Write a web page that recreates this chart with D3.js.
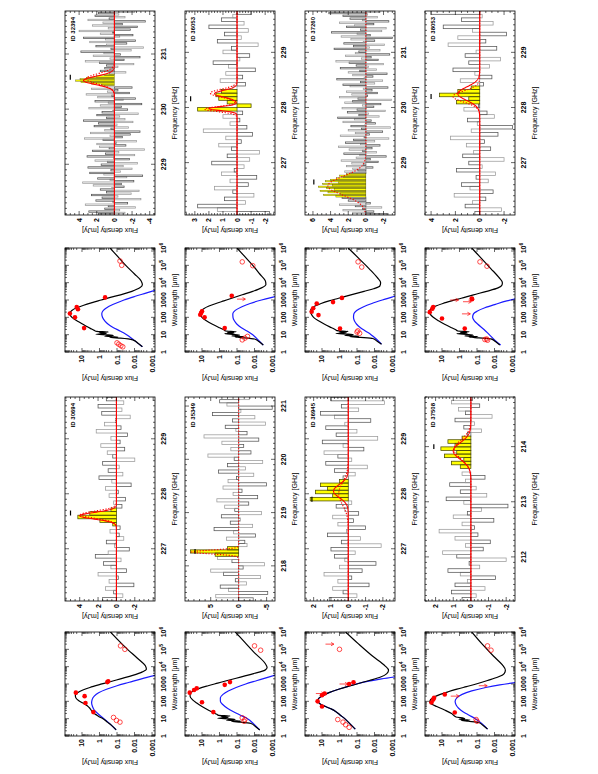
<!DOCTYPE html>
<html><head><meta charset="utf-8">
<script src="https://cdn.jsdelivr.net/npm/d3@7/dist/d3.min.js"></script>
<style>html,body{margin:0;padding:0;background:#fff;}svg{display:block;}</style>
</head><body>
<svg id="fig" width="598" height="774"></svg>
<script>
// ---------------- DATA ----------------
const sources = ["30694","32394","35349","36053","36945","37260","37508","38053"];

// spectra: channel fluxes (mJy)
const flux_30694 = [1.5,-0.7,0.3,1.2,-1.9,0.8,-0.2,2.0,-1.1,0.6,1.4,-0.5,2.3,0.9,-1.4,0.2,1.1,-0.8,-0.3,0.7,-0.4,0.4,1.8,4.2,2.9,0.6,-0.6,0.3,-1.0,0.8,-0.2,1.2,-1.6,0.5,1.9,-0.7,0.9,-0.3,1.5,-2.0,0.4,1.0,-0.9,1.7,-0.4,0.6,-1.2,2.2,-0.5,1.3,0.1,-1.5,1.6,-0.6,2.0,-0.8,1.1];
const flux_32394 = [1.8,-1.2,2.9,-0.6,1.1,-2.4,0.7,3.3,-1.5,0.2,2.1,-3.0,1.4,-0.4,2.6,-1.9,0.9,-2.8,1.6,0.3,
  -1.1,2.4,-0.8,3.6,-2.2,0.5,1.9,-1.4,-3.2,1.2,2.8,-0.7,0.4,-2.0,3.0,-1.0,1.5,-2.6,0.8,2.2,
  -1.7,0.1,3.1,-2.3,1.0,-0.5,2.5,-3.4,0.6,1.7,-1.3,2.0,-0.2,-2.5,1.3,3.4,-0.9,0.5,-1.8,2.7,
  -2.9,1.1,0.4,-1.6,2.3,-0.3,1.8,-2.1,3.5,-1.2,0.9,-0.6,2.0,-2.7,1.4,0.2,-1.5,2.9,-0.8,1.6,
  -3.1,0.7,2.2,-1.0,-2.4,1.9,0.3,3.2,-1.7,0.8,-0.4,2.6,-2.0,1.2,
  1.5,2.6,3.8,4.4,3.9,3.2,2.0,1.1,
  0.6,-1.3,1.6,0.3,1.1,-0.4,0.9,-2.2,1.7,3.3,-1.1,0.5,-2.9,2.4,-0.7,1.2,3.8,-1.9,0.4,-3.3,2.1,0.9,-1.4,2.8,-2.4,1.0,3.5,-0.6,-2.1,1.6,0.2,4.0,-1.8,0.7,-2.6,2.5,-0.9,1.3,-3.5,3.0,0.6,-1.2,2.2,-0.5,1.8,-2.3];
const flux_35349 = [-2.6,4.1,-5.2,1.8,3.3,-1.4,0.6,-3.9,2.7,5.0,-0.8,-4.6,1.2,3.8,4.2,8.6,2.0,-1.5,-1.1,2.2,-3.0,0.9,4.4,-2.5,1.5,-0.3,3.1,-4.1,0.7,2.5,-1.8,3.9,-3.4,1.0,-0.6,2.8,-5.0,1.9,0.4,-2.7,3.6,-1.2,2.0,-4.3,0.8,5.5,-2.2,1.4,-0.9,3.0,-3.6,6.2,-1.5,0.5,2.4,-4.8,1.1,-2.9,4.7,-0.4,-6.0,2.1,3.4,-1.9];
const flux_36053 = [-2.3,1.4,2.8,-0.6,0.9,-1.2,0.3,1.6,-0.8,0.5,-1.4,1.1,0.2,-0.5,1.8,-0.9,0.7,-1.6,0.4,1.3,-0.3,0.8,-1.1,2.4,-0.7,0.5,-0.2,1.0,-0.4,2.8,-1.0,0.7,1.3,1.5,1.1,0.3,-0.6,1.2,-0.4,0.8,-1.3,0.6,1.7,-0.2,-0.9,1.0,0.4,-1.5,1.4,-0.3,0.9,-0.8,2.0,-0.5,1.1,0.3,-1.0];
const flux_36945 = [1.1,-0.5,0.3,0.9,-1.2,0.6,-0.2,1.4,-0.8,0.5,-1.6,0.2,0.8,-0.4,1.0,-1.9,0.4,-0.7,1.2,0.1,-1.0,0.6,-0.3,0.9,-0.6,0.2,0.7,-0.2,2.2,0.9,1.9,1.2,1.6,0.5,0.3,-0.4,0.8,-1.1,1.3,-0.2,0.6,1.4,-0.9,0.3,1.5,-1.7,0.7,-0.5,1.3,0.2,-1.3,0.8,1.6,-0.6,0.4,-2.1,1.0];
const flux_37260 = [-2.4,1.5,-0.9,2.6,0.4,-1.8,1.2,3.0,-0.5,0.8,2.0,1.4,2.7,
  3.4,4.8,2.9,4.3,5.2,3.6,4.5,5.4,3.8,4.9,3.1,4.6,4.0,3.3,2.6,3.0,2.2,
  1.7,2.4,0.9,1.5,-0.8,2.2,0.3,1.6,-1.4,2.8,-0.5,1.1,-2.3,0.7,2.5,-1.2,0.4,1.9,-0.7,3.1,
  -1.6,0.6,2.3,-1.0,1.4,-2.6,0.2,2.9,-0.4,1.2,-1.9,2.0,0.5,-2.8,1.7,0.1,-1.1,2.6,-0.6,1.3,
  3.2,-1.5,0.8,-0.3,2.1,-2.2,1.0,2.7,-0.9,0.4,-1.7,2.4,1.5,-2.9,0.9,3.0,-0.2,1.6,-1.3,2.2,
  -0.7,0.3,-2.5,1.8,2.6,-1.0,0.6,-1.9,3.3,0.2,-0.8,1.5,-2.4,2.0,0.7,-1.2,2.9,-0.3,1.1,-2.0,
  1.9,3.4,-1.4,0.5,-0.6,2.3,-2.7,1.2,0.8,-1.6,3.6,-0.4,1.4,-2.1,2.5,0.3,-1.0,1.7,-3.0,2.8,
  -0.5,1.0,3.9,-1.8,0.6,-2.3,2.2,1.3,-0.9,3.0,-2.6,0.4,1.8,-1.3,2.6,-0.2,4.2,-1.6];
const flux_37508 = [0.5,-0.3,1.1,-0.8,0.9,0.2,-1.4,0.6,1.3,-0.5,0.1,-2.0,0.8,1.6,-0.7,0.3,-1.1,0.9,-0.4,1.8,-0.2,0.5,-1.3,1.0,0.2,-0.6,-2.1,0.4,1.4,-0.9,0.6,-0.3,1.2,0.3,-0.8,0.5,0.0,0.6,1.1,0.4,1.5,0.8,1.7,0.9,1.3,0.5,0.2,-0.6,0.4,-0.2,0.9,-1.2,0.3,0.7,-0.5,1.1,-0.1];
const flux_38053 = [0.4,-1.8,1.2,0.6,-0.5,2.1,-1.1,0.8,1.5,-0.7,0.3,-1.3,1.9,-0.2,0.9,-2.0,1.4,0.5,-0.9,1.1,-0.4,2.4,-1.5,0.7,-2.7,0.2,1.0,-1.2,-0.6,1.3,0.1,1.9,0.9,3.3,1.8,0.7,-0.3,1.6,-1.0,0.4,2.2,-0.8,0.9,-1.7,1.2,0.3,-1.4,2.6,-0.5,1.8,-2.2,0.6,3.0,-1.1,1.5,-0.2,4.0];

const binStart  = [226.05, 228.08, 217.34, 226.05, 226.05, 228.05, 211.20, 226.05];   // GHz
const binWidth  = [0.065, 0.025, 0.06, 0.065, 0.065, 0.025, 0.065, 0.065];             // GHz
const freqRange = [[226.05,229.76],[228.08,231.78],[217.34,221.17],[226.05,229.75],[226.05,229.76],[228.05,231.75],[211.2,214.9],[226.05,229.75]];
const fluxRange = [[-4.2,5.6],[-4.6,5.6],[-6.5,9.6],[-2.7,3.7],[-2.7,2.5],[-3.3,6.9],[-2.5,2.6],[-2.9,4.5]];
const freqTicks = [[227,228,229],[229,230,231],[218,219,220,221],[227,228,229],[227,228,229],[229,230,231],[212,213,214],[227,228,229]];
const fluxTicks = [[4,2,0,-2],[4,2,0,-2,-4],[5,0,-5],[3,2,1,0,-1,-2],[2,1,0,-1,-2],[6,4,2,0,-2],[2,1,0,-1,-2],[4,2,0,-2]];
const fluxMinor = [0.5,0.5,1,0.2,0.2,0.5,0.2,0.5];
const lineBins  = [[21,25],[94,101],[14,16],[29,34],[28,33],[13,29],[37,45],[31,35]];
// gaussian fits [centre GHz, sigma GHz, peak mJy]
const solidFit  = [[[227.6,0.06,4.0]],[[230.52,0.075,3.5]],[],[[227.98,0.035,2.0],[228.25,0.06,1.6]],[[228.05,0.12,0.85]],[],[[213.92,0.15,1.0]],[[228.25,0.12,1.8]]];
const dottedFit = [[[227.62,0.065,3.9]],[[230.55,0.09,3.2]],[[218.26,0.035,8.4]],[[227.97,0.045,2.3],[228.26,0.07,1.9]],[[228.0,0.2,0.55]],[[228.58,0.17,4.3]],[[213.95,0.17,0.95]],[[228.2,0.1,2.2]]];
// expected-line marker [freq, flux]
const marker = [[227.65,5.0],[230.58,5.0],[218.27,7.8],[228.16,3.3],[227.9,2.1],[228.65,5.9],[214.0,2.1],[228.2,4.0]];

// SEDs, [log10 wavelength(um), log10 flux(mJy)]
const black_30694 = [[0.35,-0.95],[0.6,-0.7],[0.8,-0.45],[1.0,-0.2],[1.1,0.0],[1.2,0.15],[1.3,0.3],[1.45,0.45],[1.6,0.55],[1.75,0.7],[1.9,0.95],[2.05,1.2],[2.2,1.35],[2.35,1.38],[2.5,1.25],[2.65,0.95],[2.8,0.55],[2.95,0.05],[3.1,-0.5],[3.3,-1.2],[3.5,-1.9],[3.7,-2.45],[3.85,-2.68],[4.05,-2.62],[4.5,-2.15],[5.0,-1.6],[5.5,-1.1],[6.0,-0.62]];
const blue_30694  = [[0.35,-0.95],[0.7,-0.6],[1.0,-0.25],[1.3,0.1],[1.5,0.3],[1.7,0.4],[1.9,0.45],[2.1,0.42],[2.3,0.3],[2.5,0.05],[2.7,-0.4],[2.9,-1.0],[3.1,-1.7],[3.3,-2.4],[3.5,-3.2]];
const black_32394 = [[0.3,-2.45],[0.5,-2.2],[0.7,-1.9],[0.8,-1.2],[0.84,-0.6],[0.87,-1.05],[0.91,-0.3],[0.95,-0.8],[0.99,-0.5],[1.03,0.2],[1.07,-0.4],[1.11,0.0],[1.15,-0.5],[1.19,0.15],[1.25,0.3],[1.35,0.5],[1.5,0.78],[1.7,1.12],[1.9,1.45],[2.1,1.66],[2.25,1.7],[2.4,1.58],[2.55,1.3],[2.7,0.9],[2.85,0.42],[3.0,-0.1],[3.15,-0.62],[3.3,-1.2],[3.5,-1.85],[3.7,-2.3],[3.88,-2.45],[4.1,-2.38],[4.5,-2.0],[5.0,-1.5],[5.5,-1.05],[6.0,-0.6]];
const blue_32394  = [[0.3,-2.45],[0.7,-1.95],[1.0,-1.55],[1.2,-1.2],[1.4,-0.8],[1.6,-0.5],[1.8,-0.3],[2.0,-0.17],[2.2,-0.13],[2.4,-0.22],[2.6,-0.48],[2.8,-0.9],[3.0,-1.4],[3.2,-2.0],[3.4,-2.65],[3.6,-3.3]];
const black_35349 = [[0.35,-2.3],[0.55,-2.05],[0.72,-1.8],[0.8,-1.2],[0.84,-0.7],[0.87,-1.2],[0.91,-0.4],[0.95,-0.9],[0.99,-0.6],[1.03,0.1],[1.07,-0.5],[1.11,-0.1],[1.15,-0.6],[1.19,0.05],[1.25,0.15],[1.35,0.35],[1.5,0.65],[1.7,1.0],[1.9,1.3],[2.1,1.55],[2.3,1.68],[2.45,1.67],[2.6,1.5],[2.75,1.15],[2.9,0.65],[3.05,0.1],[3.2,-0.45],[3.4,-1.2],[3.6,-1.95],[3.8,-2.6],[3.95,-2.72],[4.2,-2.6],[4.8,-2.0],[5.4,-1.45],[6.0,-0.9]];
const blue_35349  = [[0.35,-2.3],[0.7,-1.95],[1.0,-1.6],[1.2,-1.2],[1.4,-0.8],[1.6,-0.45],[1.8,-0.2],[2.0,-0.05],[2.2,-0.05],[2.4,-0.2],[2.6,-0.5],[2.8,-0.95],[3.0,-1.5],[3.2,-2.15],[3.4,-2.8],[3.55,-3.3]];
const black_36053 = [[0.4,-2.5],[0.6,-2.25],[0.75,-2.0],[0.82,-1.4],[0.86,-0.9],[0.89,-1.4],[0.93,-0.7],[0.97,-1.15],[1.01,-0.85],[1.05,-0.3],[1.09,-0.85],[1.13,-0.45],[1.17,-0.95],[1.21,-0.35],[1.28,-0.25],[1.4,0.0],[1.6,0.4],[1.8,0.75],[2.0,1.0],[2.2,1.12],[2.35,1.08],[2.5,0.9],[2.65,0.6],[2.8,0.2],[2.95,-0.25],[3.1,-0.7],[3.3,-1.3],[3.5,-1.9],[3.7,-2.4],[3.9,-2.65],[4.1,-2.62],[4.5,-2.3],[5.0,-1.9],[5.5,-1.45],[6.0,-1.0]];
const blue_36053  = [[0.4,-2.5],[0.7,-2.2],[1.0,-1.9],[1.2,-1.6],[1.4,-1.25],[1.6,-1.0],[1.8,-0.85],[2.0,-0.77],[2.2,-0.76],[2.4,-0.9],[2.6,-1.25],[2.8,-1.75],[3.0,-2.4],[3.15,-3.0],[3.22,-3.3]];
const black_36945 = [[0.4,-0.9],[0.7,-0.6],[1.0,-0.3],[1.2,-0.05],[1.4,0.2],[1.55,0.45],[1.7,0.8],[1.85,1.1],[2.0,1.25],[2.15,1.2],[2.3,1.0],[2.5,0.6],[2.7,0.05],[2.85,-0.45],[3.0,-1.0],[3.2,-1.7],[3.4,-2.35],[3.6,-2.7],[3.8,-2.8],[4.05,-2.6],[4.6,-1.9],[5.3,-1.1],[6.0,-0.35]];
const blue_36945  = [[0.4,-0.9],[0.7,-0.6],[1.0,-0.3],[1.2,-0.05],[1.4,0.2],[1.55,0.45],[1.7,0.8],[1.85,1.1],[2.0,1.25],[2.15,1.2],[2.3,1.0],[2.5,0.6],[2.7,0.05],[2.85,-0.45],[3.0,-0.95],[3.15,-1.6],[3.3,-2.4],[3.42,-3.2]];
const black_37260 = [[0.45,-2.4],[0.62,-2.15],[0.78,-1.9],[0.84,-1.2],[0.88,-0.6],[0.91,-1.1],[0.95,-0.3],[0.99,-0.8],[1.03,-0.5],[1.07,0.2],[1.11,-0.4],[1.15,0.0],[1.19,-0.5],[1.23,0.15],[1.3,0.25],[1.4,0.45],[1.6,0.85],[1.8,1.2],[2.0,1.48],[2.2,1.62],[2.35,1.66],[2.5,1.6],[2.65,1.4],[2.8,1.05],[2.95,0.6],[3.1,0.05],[3.3,-0.65],[3.5,-1.4],[3.65,-1.95],[3.8,-2.3],[4.0,-2.35],[4.3,-2.15],[4.8,-1.7],[5.4,-1.1],[6.0,-0.5]];
const blue_37260  = [[0.45,-2.4],[0.75,-2.1],[1.0,-1.8],[1.2,-1.5],[1.4,-1.2],[1.6,-0.98],[1.8,-0.85],[2.0,-0.8],[2.2,-0.82],[2.4,-0.98],[2.6,-1.35],[2.8,-1.85],[3.0,-2.45],[3.2,-3.1],[3.28,-3.3]];
const black_37508 = [[0.4,-1.6],[0.6,-1.35],[0.78,-1.1],[0.85,-0.5],[0.89,-0.1],[0.92,-0.6],[0.96,0.05],[1.0,-0.3],[1.1,0.2],[1.3,0.45],[1.5,0.85],[1.7,1.3],[1.85,1.6],[1.95,1.7],[2.1,1.65],[2.25,1.45],[2.4,1.1],[2.55,0.65],[2.7,0.15],[2.85,-0.4],[3.0,-0.95],[3.2,-1.6],[3.4,-2.2],[3.6,-2.55],[3.8,-2.62],[4.1,-2.45],[4.6,-1.95],[5.3,-1.3],[6.0,-0.7]];
const blue_37508  = [[0.4,-1.6],[0.7,-1.3],[1.0,-0.9],[1.2,-0.55],[1.4,-0.2],[1.6,0.05],[1.8,0.2],[2.0,0.25],[2.2,0.15],[2.4,-0.15],[2.6,-0.7],[2.8,-1.5],[2.95,-2.3],[3.1,-3.3]];
const black_38053 = [[0.4,-2.3],[0.6,-2.05],[0.76,-1.8],[0.82,-1.1],[0.86,-0.55],[0.89,-1.05],[0.93,-0.3],[0.97,-0.8],[1.01,-0.5],[1.05,0.15],[1.09,-0.45],[1.13,-0.05],[1.17,-0.55],[1.21,0.1],[1.28,0.2],[1.4,0.45],[1.6,0.85],[1.8,1.2],[2.0,1.5],[2.2,1.68],[2.35,1.72],[2.5,1.62],[2.65,1.35],[2.8,0.95],[2.95,0.45],[3.1,-0.1],[3.3,-0.8],[3.5,-1.55],[3.7,-2.2],[3.85,-2.42],[4.0,-2.45],[4.3,-2.25],[4.8,-1.8],[5.4,-1.25],[6.0,-0.7]];
const blue_38053  = [[0.4,-2.35],[0.7,-2.0],[1.0,-1.7],[1.3,-1.4],[1.6,-1.05],[1.8,-0.85],[2.0,-0.75],[2.2,-0.8],[2.35,-1.0],[2.55,-1.45],[2.75,-2.05],[2.95,-2.7],[3.08,-3.25]];

// photometry: detections (filled), not fitted (open), upper limits (arrows)
const det_30694 = [[2.5,1.35],[2.3,0.85],[1.9,0.8],[1.38,0.35],[3.11,-0.45],[3.16,-0.5]];
const open_30694 = [[1.07,-0.8],[0.9,-0.97],[0.8,-1.17],[5.2,-1.2],[5.0,-1.45]];
const lim_30694 = [];
const det_32394 = [[2.22,1.69],[2.0,1.4],[2.6,1.3],[2.47,1.23],[1.38,0.88],[3.15,-0.32]];
const open_32394 = [[0.53,-1.0],[0.45,-1.1],[0.36,-1.22],[0.3,-1.33],[5.0,-1.27],[5.25,-1.17]];
const lim_32394 = [];
const det_35349 = [[2.5,1.7],[2.65,1.45],[2.75,1.3],[1.95,1.0],[1.38,0.35],[2.95,-0.3],[3.11,-0.6]];
const open_35349 = [[1.05,-1.3],[0.95,-1.45],[0.85,-1.4],[5.2,-2.0],[4.95,-2.35]];
const lim_35349 = [];
const det_36053 = [[2.15,1.1],[2.25,1.05],[2.35,1.0],[2.0,0.85],[1.38,-0.3],[3.24,-0.7]];
const open_36053 = [[0.7,-1.3],[0.8,-1.45],[0.9,-1.6],[5.2,-1.3],[4.98,-1.9]];
const lim_36053 = [[3.05,-1.0]];
const det_36945 = [[2.0,1.25],[1.7,1.0],[2.35,1.0],[2.45,0.85],[3.0,-0.55],[3.1,-0.8]];
const open_36945 = [[0.5,-0.55],[0.65,-0.35],[0.8,-0.2],[0.95,0.1],[5.0,0.0]];
const lim_36945 = [[3.0,0.0],[2.45,1.35],[5.3,0.8]];
const det_37260 = [[2.32,1.59],[2.52,1.5],[2.13,1.2],[2.8,1.3],[2.88,0.37],[3.12,-0.14],[1.35,-0.03]];
const open_37260 = [[1.15,-1.0],[1.22,-1.05],[1.08,-1.15],[5.2,-1.06],[4.9,-1.27]];
const lim_37260 = [];
const det_37508 = [[1.93,1.6],[2.1,1.5],[2.2,1.45],[2.4,0.84],[1.36,0.27]];
const open_37508 = [[0.95,-0.95],[0.85,-1.0],[5.2,-1.6],[4.95,-1.8]];
const lim_37508 = [[2.3,0.5],[2.9,-1.1]];
const det_38053 = [[2.3,1.7],[2.5,1.55],[2.6,1.5],[1.93,1.0],[3.05,-0.72],[3.08,-0.7],[1.35,-0.3]];
const open_38053 = [[0.72,-1.45],[0.75,-1.55],[0.68,-1.6],[5.2,-1.17],[4.95,-1.57]];
const lim_38053 = [[3.0,0.53],[2.2,-0.14],[2.9,-0.2]];

const sedXLabels = [1,10,100,1000,1e4,1e5,1e6];
const sedYLabels = [10,1,0.1,0.01,0.001];

// ---------------- TABLES ----------------
const specFlux = [flux_30694,flux_32394,flux_35349,flux_36053,flux_36945,flux_37260,flux_37508,flux_38053];
const sedBlack = [black_30694,black_32394,black_35349,black_36053,black_36945,black_37260,black_37508,black_38053];
const sedBlue  = [blue_30694,blue_32394,blue_35349,blue_36053,blue_36945,blue_37260,blue_37508,blue_38053];
const sedDet   = [det_30694,det_32394,det_35349,det_36053,det_36945,det_37260,det_37508,det_38053];
const sedOpen  = [open_30694,open_32394,open_35349,open_36053,open_36945,open_37260,open_37508,open_38053];
const sedLim   = [lim_30694,lim_32394,lim_35349,lim_36053,lim_36945,lim_37260,lim_37508,lim_38053];

// ---------------- DRAW ----------------
const FONT = "'Liberation Sans', Arial, Helvetica, sans-serif";
const RED = "#ff0000";
const svg = d3.select("#fig");
svg.append("rect").attr("width",598).attr("height",774).attr("fill","#fff");
const defs = svg.append("defs");
// the page is a landscape figure rotated by -90 degrees
const root = svg.append("g").attr("transform","translate(0,774) rotate(-90)")
  .attr("font-family",FONT).attr("fill","#000");

const rowY = [65,185,305,425];
const sedX = [38,422], specX = [173,559];
const SEDW = 104, SPW = 204, PH = 90;

function tickLines(g, pts){
  g.selectAll(null).data(pts).enter().append("line")
    .attr("x1",d=>d[0]).attr("y1",d=>d[1]).attr("x2",d=>d[2]).attr("y2",d=>d[3])
    .attr("stroke","#000").attr("stroke-width",0.6);
}

function drawSpectrum(i, x0, y0){
  const fr = freqRange[i], fl = fluxRange[i];
  const xs = d3.scaleLinear().domain(fr).range([x0,x0+SPW]);
  const ys = d3.scaleLinear().domain(fl).range([y0+PH,y0]);
  const g = root.append("g");
  const cid = "clipS"+i;
  defs.append("clipPath").attr("id",cid).append("rect")
    .attr("x",x0).attr("y",y0).attr("width",SPW).attr("height",PH);
  const gc = g.append("g").attr("clip-path",`url(#${cid})`);
  const bins = specFlux[i].map((v,k)=>({k, v, f0:binStart[i]+k*binWidth[i], f1:binStart[i]+(k+1)*binWidth[i]}));
  const lb = lineBins[i];
  const inLine = b => b.k>=lb[0] && b.k<=lb[1];
  const narrow = binWidth[i] < 0.03;
  const bx = b=>xs(b.f0), bw = b=>xs(b.f1)-xs(b.f0);
  const by = b=>Math.min(ys(0),ys(b.v)), bh = b=>Math.abs(ys(b.v)-ys(0));
  gc.selectAll(null).data(bins.filter(b=>!inLine(b))).enter().append("rect")
    .attr("x",bx).attr("width",bw).attr("y",by).attr("height",bh)
    .attr("fill","none")
    .attr("stroke",b=>b.k%2?"#9a9a9a":"#555")
    .attr("stroke-width",0.75);
  const lineSel = bins.filter(inLine);
  gc.selectAll(null).data(lineSel).enter().append("rect")
    .attr("x",bx).attr("width",bw).attr("y",by).attr("height",bh).attr("fill","#ffff00");
  gc.selectAll(null).data(lineSel).enter().append("rect")
    .attr("x",bx).attr("width",bw).attr("y",by).attr("height",bh)
    .attr("fill","none").attr("stroke","#4a4a00").attr("stroke-width",narrow?0.35:0.75);
  const fs = d3.range(fr[0], fr[1]+0.001, (fr[1]-fr[0])/700);
  const model = comps => f => comps.reduce((s,c)=>s+c[2]*Math.exp(-0.5*((f-c[0])/c[1])**2),0);
  const line = d3.line().x(d=>xs(d[0])).y(d=>ys(d[1]));
  const md = model(dottedFit[i]);
  gc.append("path").attr("d",line(fs.map(f=>[f,md(f)])))
    .attr("fill","none").attr("stroke",RED).attr("stroke-width",1.1).attr("stroke-dasharray","1.3,1.6");
  if (solidFit[i].length){
    const ms = model(solidFit[i]);
    gc.append("path").attr("d",line(fs.map(f=>[f,ms(f)])))
      .attr("fill","none").attr("stroke",RED).attr("stroke-width",1.1);
  }
  const mk = marker[i];
  g.append("line").attr("x1",xs(mk[0]-0.045)).attr("x2",xs(mk[0]+0.045))
    .attr("y1",ys(mk[1])).attr("y2",ys(mk[1])).attr("stroke","#000").attr("stroke-width",1.2);
  const t = [];
  d3.range(Math.ceil(fr[0]*10), Math.floor(fr[1]*10)+1).forEach(n=>{
    const f = n/10, x = xs(f), L = (n%10===0)?4:2;
    t.push([x,y0+PH,x,y0+PH-L],[x,y0,x,y0+L]);
  });
  const st = fluxMinor[i];
  const majorStep = Math.abs(fluxTicks[i][0]-fluxTicks[i][1]);
  d3.range(Math.ceil(fl[0]/st), Math.floor(fl[1]/st)+1).forEach(n=>{
    const v = n*st, y = ys(v);
    const isMaj = Math.abs(v/majorStep - Math.round(v/majorStep))<1e-6;
    const L = isMaj?4:2;
    t.push([x0,y,x0+L,y],[x0+SPW,y,x0+SPW-L,y]);
  });
  tickLines(g,t);
  g.append("rect").attr("x",x0).attr("y",y0).attr("width",SPW).attr("height",PH)
    .attr("fill","none").attr("stroke","#000").attr("stroke-width",0.8);
  g.selectAll(null).data(freqTicks[i]).enter().append("text")
    .attr("x",d=>xs(d)).attr("y",y0+PH+10.5).attr("text-anchor","middle")
    .attr("font-size",7).attr("font-weight","bold").text(d=>d);
  g.selectAll(null).data(fluxTicks[i]).enter().append("text")
    .attr("x",x0-3).attr("y",d=>ys(d)+2.5).attr("text-anchor","end")
    .attr("font-size",7).attr("font-weight","bold").text(d=>d);
  g.append("text").attr("x",x0+SPW/2).attr("y",y0+PH+22).attr("text-anchor","middle")
    .attr("font-size",7).text("Frequency [GHz]");
  g.append("text").attr("transform",`translate(${x0-13},${y0+PH/2}) rotate(-90)`)
    .attr("text-anchor","middle").attr("font-size",7).text("Flux density [mJy]");
  g.append("text").attr("x",x0+SPW-6).attr("y",y0+10).attr("text-anchor","end")
    .attr("font-size",6).attr("font-weight","bold").text("ID "+sources[i]);
}

function drawSED(i, x0, y0){
  const xs = d3.scaleLog().domain([1,1e6]).range([x0,x0+SEDW]);
  const ys = d3.scaleLog().domain([10**-3.17,10**1.97]).range([y0+PH,y0]);
  const g = root.append("g");
  const cid = "clipE"+i;
  defs.append("clipPath").attr("id",cid).append("rect")
    .attr("x",x0).attr("y",y0).attr("width",SEDW).attr("height",PH);
  const gc = g.append("g").attr("clip-path",`url(#${cid})`);
  const L = d3.line().x(d=>xs(10**d[0])).y(d=>ys(10**d[1])).curve(d3.curveMonotoneX);
  gc.append("path").attr("d",L(sedBlue[i])).attr("fill","none").attr("stroke","#1a1aff").attr("stroke-width",1.2);
  gc.append("path").attr("d",L(sedBlack[i])).attr("fill","none").attr("stroke","#000").attr("stroke-width",1.2);
  gc.selectAll(null).data(sedOpen[i]).enter().append("circle")
    .attr("cx",d=>xs(10**d[0])).attr("cy",d=>ys(10**d[1])).attr("r",2.3)
    .attr("fill","none").attr("stroke",RED).attr("stroke-width",0.7);
  gc.selectAll(null).data(sedDet[i]).enter().append("circle")
    .attr("cx",d=>xs(10**d[0])).attr("cy",d=>ys(10**d[1])).attr("r",2.3).attr("fill",RED);
  sedLim[i].forEach(d=>{
    const x = xs(10**d[0]), y = ys(10**d[1]);
    gc.append("line").attr("x1",x).attr("x2",x).attr("y1",y).attr("y2",y+8).attr("stroke",RED).attr("stroke-width",0.7);
    gc.append("path").attr("d",`M${x-1.6},${y+5.5}L${x},${y+8.5}L${x+1.6},${y+5.5}`).attr("fill","none").attr("stroke",RED).attr("stroke-width",0.7);
  });
  const t = [];
  xs.ticks().forEach(v=>{
    const x = xs(v), maj = Math.abs(Math.log10(v)-Math.round(Math.log10(v)))<1e-6, l = maj?4:2;
    t.push([x,y0+PH,x,y0+PH-l],[x,y0,x,y0+l]);
  });
  ys.ticks().forEach(v=>{
    const y = ys(v), maj = Math.abs(Math.log10(v)-Math.round(Math.log10(v)))<1e-6, l = maj?4:2;
    t.push([x0,y,x0+l,y],[x0+SEDW,y,x0+SEDW-l,y]);
  });
  tickLines(g,t);
  g.append("rect").attr("x",x0).attr("y",y0).attr("width",SEDW).attr("height",PH)
    .attr("fill","none").attr("stroke","#000").attr("stroke-width",0.8);
  sedXLabels.forEach(v=>{
    const e = Math.round(Math.log10(v));
    const tx = g.append("text").attr("x",xs(v)).attr("y",y0+PH+10.5).attr("text-anchor","middle")
      .attr("font-size",7).attr("font-weight","bold");
    if (e<4) tx.text(String(v));
    else { tx.append("tspan").text("10"); tx.append("tspan").attr("dy",-3).attr("font-size",5).text(e); }
  });
  g.selectAll(null).data(sedYLabels).enter().append("text")
    .attr("x",x0-3).attr("y",d=>ys(d)+2.5).attr("text-anchor","end")
    .attr("font-size",7).attr("font-weight","bold").text(d=>d);
  g.append("text").attr("x",x0+SEDW/2).attr("y",y0+PH+22).attr("text-anchor","middle")
    .attr("font-size",7).text("Wavelength [\u03bcm]");
  g.append("text").attr("transform",`translate(${x0-24},${y0+PH/2}) rotate(-90)`)
    .attr("text-anchor","middle").attr("font-size",7).text("Flux density [mJy]");
}

sources.forEach((s,i)=>{
  const r = Math.floor(i/2), c = i%2;
  drawSED(i, sedX[c], rowY[r]);
  drawSpectrum(i, specX[c], rowY[r]);
});
</script>
</body></html>
